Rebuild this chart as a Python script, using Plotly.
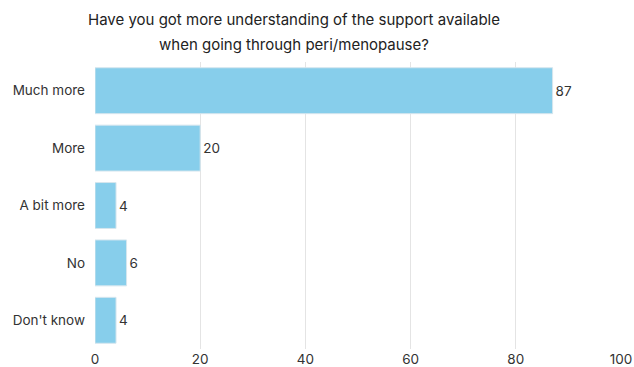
import plotly.graph_objects as go

categories = ["Much more", "More", "A bit more", "No", "Don't know"]
counts = [87, 20, 4, 6, 4]
x_ticks = [0, 20, 40, 60, 80, 100]

title_lines = [
    "Have you got more understanding of the support available",
    "when going through peri/menopause?",
]

fig = go.Figure(
    go.Bar(
        x=counts,
        y=categories,
        orientation="h",
        marker=dict(color="#87ceeb", line=dict(color="#d6e6ee", width=1)),
        text=counts,
        textposition="outside",
        textfont=dict(size=13.5, color="#333333"),
        cliponaxis=False,
        width=0.8,
    )
)

fig.update_layout(
    width=634,
    height=367,
    margin=dict(l=95, r=13, t=62, b=18, autoexpand=False),
    paper_bgcolor="white",
    plot_bgcolor="white",
    font=dict(family="Inter, Open Sans, sans-serif", size=13.5, color="#333333"),
    showlegend=False,
    bargap=0.19,
)

# Two-line heading placed as paper-level text
for i, line in enumerate(title_lines):
    fig.add_annotation(
        text=line,
        xref="paper",
        yref="paper",
        x=(294 - 95) / (634 - 95 - 13),
        y=1 + (62 - (19 + 25 * i)) / (367 - 62 - 18),
        xanchor="center",
        yanchor="middle",
        showarrow=False,
        font=dict(size=15, color="#222222"),
    )

fig.update_xaxes(
    range=[0, 100],
    tickvals=x_ticks,
    showgrid=True,
    gridcolor="#e4e4e4",
    gridwidth=1,
    zeroline=False,
    showline=False,
    ticks="",
    automargin=False,
    tickfont=dict(size=13.5, color="#333333"),
)
fig.update_yaxes(
    categoryorder="array",
    categoryarray=categories[::-1],
    showgrid=False,
    ticks="",
    ticklen=0,
    ticklabelstandoff=9,
    automargin=False,
    tickfont=dict(size=13.5, color="#333333"),
)

fig.write_html("out.html")
